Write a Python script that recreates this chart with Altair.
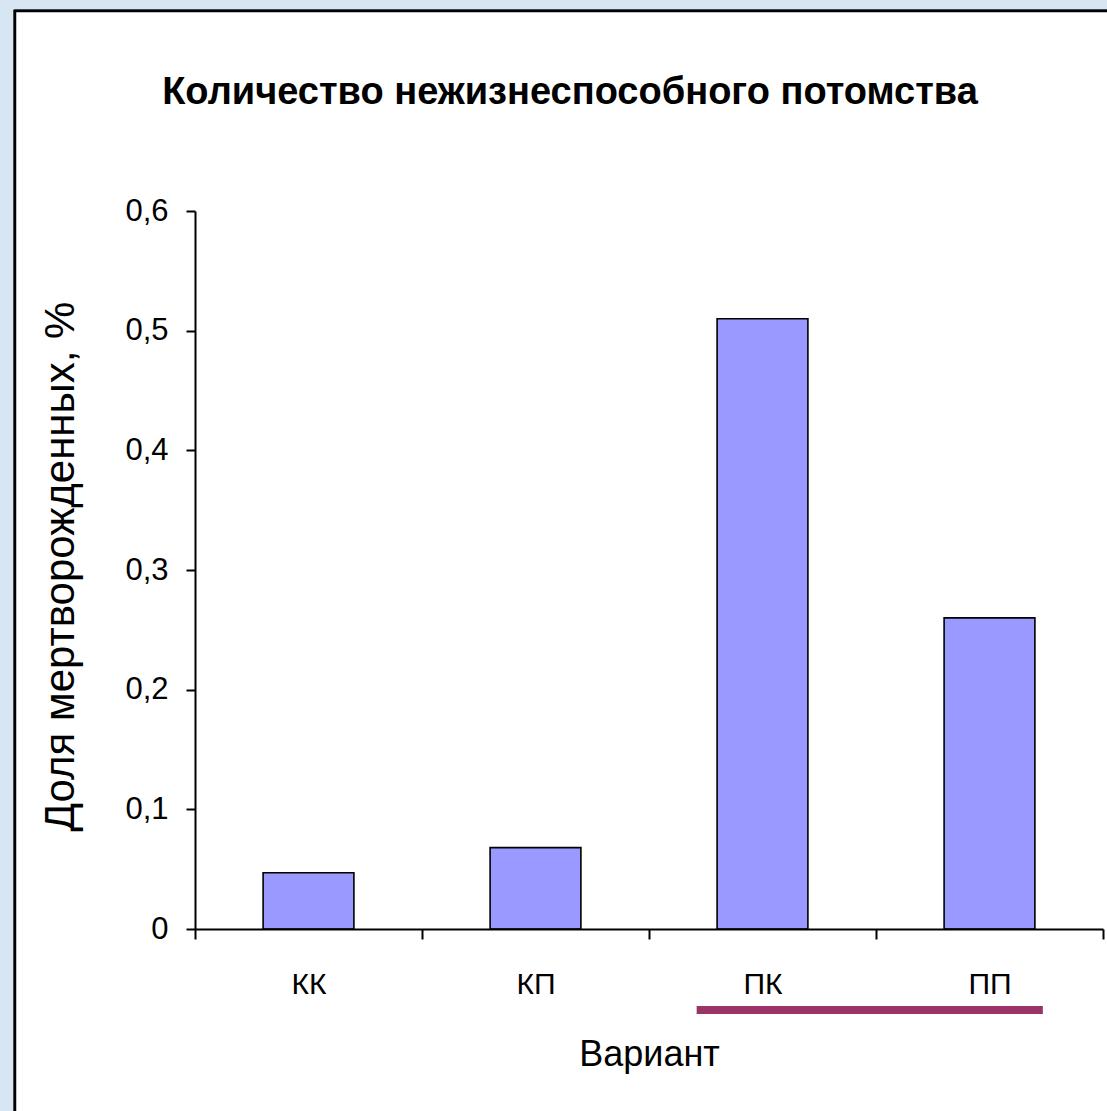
import altair as alt
import pandas as pd

# Chart values
categories = ["КК", "КП", "ПК", "ПП"]
values = [0.047, 0.068, 0.51, 0.26]
y_ticks = [0, 0.1, 0.2, 0.3, 0.4, 0.5, 0.6]

title_text = "Количество нежизнеспособного потомства"
y_title = "Доля мертворожденных, %"
x_title = "Вариант"

# the two treated variants are underlined below the axis
underline_from = "ПК"
underline_to = "ПП"

bars_df = pd.DataFrame({"variant": categories, "share": values})
underline_df = pd.DataFrame({"start": [underline_from], "end": [underline_to]})

W, H = 908, 718
PAD_L, PAD_T, PAD_R, PAD_B = 195, 211, 4, 182

FONT = "Liberation Sans"

x_enc = alt.X(
    "variant:N",
    sort=categories,
    scale=alt.Scale(domain=categories, paddingInner=0, paddingOuter=0),
    axis=alt.Axis(
        title=x_title,
        zindex=1,
        labelAngle=0,
        tickBand="extent",
        tickSize=10,
        tickWidth=2,
        tickColor="black",
        domainColor="black",
        domainWidth=2,
        labelFont=FONT,
        labelFontSize=30,
        labelColor="black",
        labelPadding=30,
        titleFont=FONT,
        titleFontSize=36,
        titleFontWeight="normal",
        titleColor="black",
        titlePadding=38,
        grid=False,
    ),
)

y_enc = alt.Y(
    "share:Q",
    scale=alt.Scale(domain=[0, 0.6], nice=False),
    axis=alt.Axis(
        values=y_ticks,
        zindex=1,
        labelExpr="replace(format(datum.value, '.1~f'), '.', ',')",
        tickSize=9,
        tickWidth=2,
        tickColor="black",
        domainColor="black",
        domainWidth=2,
        labelFont=FONT,
        labelFontSize=31,
        labelColor="black",
        labelPadding=18,
        title=y_title,
        titleFont=FONT,
        titleFontSize=42,
        titleFontWeight="normal",
        titleColor="black",
        titleX=-135,
        titleY=H / 2 - 4,
        titleAngle=270,
        titleAlign="center",
        titleBaseline="middle",
        grid=False,
    ),
)

# white framed panel behind the plot
panel = alt.Chart(bars_df).mark_rect(
    fill="white", stroke="black", strokeWidth=2.5
).encode(
    x=alt.value(15 - PAD_L),
    x2=alt.value(W + PAD_R + 20),
    y=alt.value(11 - PAD_T),
    y2=alt.value(H + PAD_B + 20),
)

bars = alt.Chart(bars_df).mark_bar(
    width=alt.RelativeBandSize(0.4),
    fill="#9999ff",
    stroke="black",
    strokeWidth=1.6,
).encode(x=x_enc, y=y_enc)

underline = alt.Chart(underline_df).mark_rule(
    color="#9b3366", strokeWidth=8, strokeCap="butt"
).encode(
    x=alt.X("start:N", bandPosition=0.21),
    x2=alt.X2("end:N", bandPosition=0.735),
    y=alt.value(799),
)

chart = (
    alt.layer(panel, bars, underline)
    .properties(
        width=W,
        height=H,
        padding={"left": PAD_L, "top": PAD_T, "right": PAD_R, "bottom": PAD_B},
        autosize=alt.AutoSizeParams(type="none"),
        background="#d8e6f3",
        title=alt.TitleParams(
            title_text,
            font=FONT,
            fontSize=38,
            fontWeight="bold",
            color="black",
            anchor="middle",
            dx=-79,
            offset=0,
            dy=102,
            zindex=1,
        ),
    )
    .configure_view(stroke=None)
)

chart.save("out.html", embed_options={"renderer": "svg", "actions": False})
